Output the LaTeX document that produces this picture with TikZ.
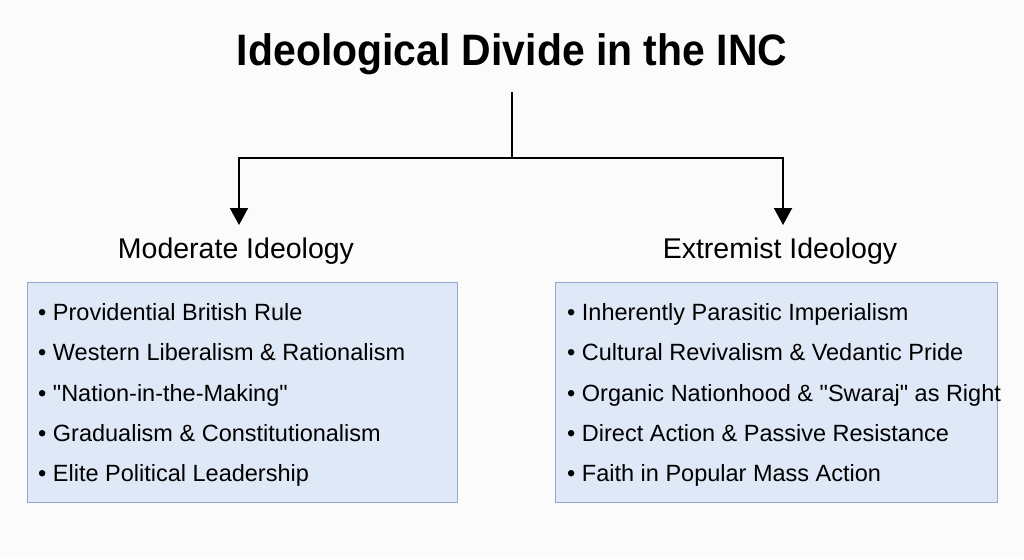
\documentclass[tikz,border=0pt]{standalone}
\usepackage{fontspec}
\setmainfont{Liberation Sans}
\newfontfamily\titlefont{Liberation Sans}[FakeStretch=0.93]
\usetikzlibrary{arrows.meta}
\definecolor{boxfill}{HTML}{DFE8F7}
\definecolor{boxline}{HTML}{93A7C8}
\definecolor{bg}{HTML}{FBFBFB}
\begin{document}
\begin{tikzpicture}[x=1pt,y=-1pt,
  titlestyle/.style={font=\titlefont\fontsize{44}{50}\selectfont\bfseries, inner sep=0pt},
  headstyle/.style={font=\fontsize{28.5}{34}\selectfont, inner sep=0pt},
  itemstyle/.style={font=\fontsize{23.5}{28}\selectfont, inner sep=0pt, anchor=base west},
  panel/.style={draw=boxline, fill=boxfill, line width=1.2pt},
  conn/.style={line width=2pt, black},
  arr/.style={conn, -{Triangle[length=17pt,width=18pt]}}]
\fill[bg] (0,0) rectangle (1024,559);
\useasboundingbox (0,0) rectangle (1024,559);
\node[titlestyle] (title) at (512,54) {Ideological Divide in the INC};
\coordinate (top) at (512,92);
\coordinate (join) at (512,158);
\coordinate (lc) at (239,158);
\coordinate (rc) at (783,158);
\node[headstyle] (mod) at (236,251) {Moderate Ideology};
\node[headstyle] (ext) at (780,251) {Extremist Ideology};
\coordinate (modtip) at (239,225);
\coordinate (exttip) at (783,225);
\draw[conn] (top) -- (join);
\draw[arr] (join) -- (lc) -- (modtip);
\draw[arr] (join) -- (rc) -- (exttip);
\node[panel, minimum width=430pt, minimum height=220pt, anchor=north west, inner sep=0pt] (modbox) at (27,282) {};
\node[panel, minimum width=442pt, minimum height=220pt, anchor=north west, inner sep=0pt] (extbox) at (555,282) {};
\node[itemstyle] (m1) at (38,320.5) {• Providential British Rule};
\node[itemstyle] (m2) at (38,360.8) {• Western Liberalism \& Rationalism};
\node[itemstyle] (m3) at (38,401.1) {• \textquotedbl Nation-in-the-Making\textquotedbl};
\node[itemstyle] (m4) at (38,441.4) {• Gradualism \& Constitutionalism};
\node[itemstyle] (m5) at (38,481.7) {• Elite Political Leadership};
\node[itemstyle] (e1) at (567,320.5) {• Inherently Parasitic Imperialism};
\node[itemstyle] (e2) at (567,360.8) {• Cultural Revivalism \& Vedantic Pride};
\node[itemstyle] (e3) at (567,401.1) {• Organic Nationhood \& \textquotedbl Swaraj\textquotedbl{} as Right};
\node[itemstyle] (e4) at (567,441.4) {• Direct Action \& Passive Resistance};
\node[itemstyle] (e5) at (567,481.7) {• Faith in Popular Mass Action};
\end{tikzpicture}
\end{document}
